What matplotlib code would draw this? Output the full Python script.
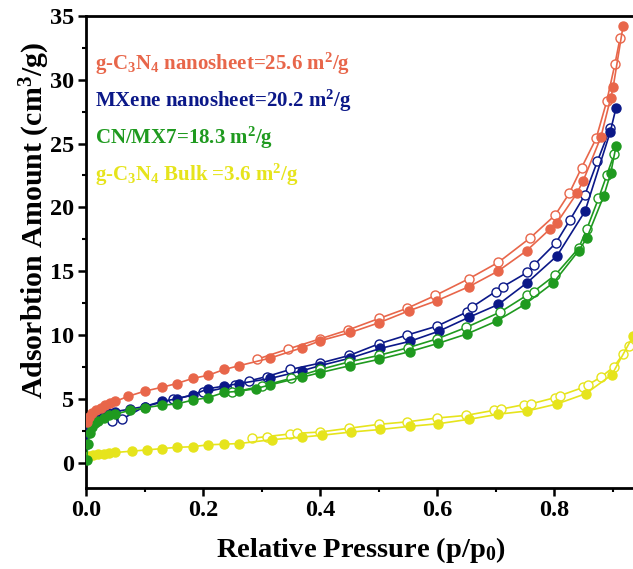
import matplotlib
matplotlib.use("Agg")
import matplotlib.pyplot as plt
from matplotlib.ticker import MultipleLocator

plt.rcParams["font.family"] = "Liberation Serif"
plt.rcParams["font.weight"] = "bold"
plt.rcParams["mathtext.fontset"] = "custom"
plt.rcParams["mathtext.rm"] = "Liberation Serif:bold"
plt.rcParams["mathtext.it"] = "Liberation Serif:bold:italic"
plt.rcParams["mathtext.bf"] = "Liberation Serif:bold"
plt.rcParams["mathtext.default"] = "rm"

# ── Data ─────────────────────────────────────────────────────────────────────

# g-C3N4 nanosheet
red_ads_x = [0.001, 0.005, 0.010, 0.017, 0.025, 0.033, 0.041, 0.050, 0.072, 0.100,
             0.129, 0.155, 0.182, 0.209, 0.236, 0.262, 0.315, 0.369, 0.400, 0.452,
             0.500, 0.552, 0.600, 0.655, 0.704, 0.753, 0.793, 0.805, 0.839, 0.850,
             0.880, 0.897, 0.901, 0.918]
red_ads_y = [3.2, 3.6, 3.9, 4.1, 4.3, 4.5, 4.7, 4.8, 5.2, 5.6,
             5.9, 6.2, 6.6, 6.85, 7.3, 7.6, 8.2, 9.0, 9.55, 10.2,
             10.95, 11.9, 12.7, 13.8, 15.0, 16.6, 18.3, 18.8, 21.1, 22.1,
             25.5, 28.6, 29.4, 34.2]
red_des_x = [0.292, 0.345, 0.400, 0.448, 0.501, 0.549, 0.597, 0.654, 0.705, 0.759,
             0.802, 0.826, 0.847, 0.872, 0.890, 0.904, 0.913]
red_des_y = [8.1, 8.9, 9.7, 10.4, 11.3, 12.1, 13.1, 14.4, 15.7, 17.6,
             19.4, 21.1, 23.1, 25.4, 28.3, 31.2, 33.3]

# MXene nanosheet
blue_ads_x = [0.001, 0.003, 0.006, 0.010, 0.015, 0.020, 0.030, 0.040, 0.050, 0.075,
              0.100, 0.129, 0.155, 0.182, 0.209, 0.236, 0.262, 0.315, 0.369, 0.400,
              0.452, 0.503, 0.553, 0.603, 0.655, 0.705, 0.754, 0.805, 0.853, 0.896,
              0.906]
blue_ads_y = [1.5, 2.3, 2.8, 3.1, 3.4, 3.6, 3.8, 3.9, 4.0, 4.2,
              4.4, 4.8, 5.0, 5.3, 5.8, 6.0, 6.2, 6.6, 7.2, 7.6,
              8.2, 8.95, 9.5, 10.3, 11.4, 12.4, 14.1, 16.2, 19.7, 25.9,
              27.8]
blue_des_x = [0.044, 0.061, 0.100, 0.149, 0.200, 0.255, 0.278, 0.309, 0.349, 0.400,
              0.450, 0.500, 0.549, 0.600, 0.651, 0.660, 0.700, 0.713, 0.754, 0.766,
              0.803, 0.827, 0.853, 0.874, 0.896]
blue_des_y = [3.3, 3.4, 4.4, 4.95, 5.5, 6.05, 6.4, 6.75, 7.3, 7.8,
              8.4, 9.3, 10.0, 10.7, 11.8, 12.2, 13.4, 13.8, 14.9, 15.5,
              17.2, 19.0, 21.0, 23.6, 26.2]

# CN/MX7
green_ads_x = [0.001, 0.003, 0.006, 0.010, 0.015, 0.020, 0.030, 0.040, 0.050, 0.075,
               0.100, 0.129, 0.155, 0.182, 0.209, 0.236, 0.262, 0.290, 0.315, 0.369,
               0.400, 0.451, 0.501, 0.553, 0.602, 0.652, 0.702, 0.750, 0.799, 0.842,
               0.856, 0.885, 0.897, 0.906]
green_ads_y = [0.2, 1.5, 2.3, 2.8, 3.1, 3.3, 3.5, 3.7, 3.8, 4.1,
               4.3, 4.5, 4.6, 4.9, 5.1, 5.5, 5.6, 5.8, 6.1, 6.7,
               7.05, 7.6, 8.1, 8.7, 9.35, 10.1, 11.1, 12.4, 14.1, 16.6,
               17.6, 20.9, 22.7, 24.8]
green_des_x = [0.250, 0.300, 0.350, 0.400, 0.450, 0.500, 0.550, 0.600, 0.650, 0.708,
               0.753, 0.765, 0.802, 0.842, 0.856, 0.876, 0.890, 0.903]
green_des_y = [5.5, 6.0, 6.6, 7.3, 7.9, 8.4, 9.0, 9.7, 10.6, 11.8,
               13.1, 13.4, 14.7, 16.8, 18.3, 20.7, 22.5, 24.2]

# g-C3N4 bulk
yellow_ads_x = [0.001, 0.005, 0.012, 0.020, 0.030, 0.040, 0.050, 0.078, 0.104, 0.129,
                0.155, 0.182, 0.209, 0.236, 0.262, 0.317, 0.369, 0.403, 0.453, 0.503,
                0.554, 0.602, 0.655, 0.705, 0.754, 0.805, 0.854, 0.899, 0.935]
yellow_ads_y = [0.3, 0.5, 0.6, 0.65, 0.7, 0.75, 0.8, 0.9, 1.0, 1.1,
                1.2, 1.25, 1.4, 1.45, 1.5, 1.8, 2.0, 2.15, 2.4, 2.6,
                2.85, 3.05, 3.4, 3.8, 4.05, 4.6, 5.4, 6.9, 9.9]
yellow_des_x = [0.283, 0.309, 0.349, 0.360, 0.400, 0.450, 0.500, 0.549, 0.600, 0.649,
                0.697, 0.710, 0.749, 0.760, 0.802, 0.810, 0.850, 0.858, 0.880, 0.902,
                0.918, 0.929, 0.940]
yellow_des_y = [1.9, 2.05, 2.25, 2.3, 2.4, 2.7, 3.0, 3.2, 3.5, 3.7,
                4.1, 4.2, 4.55, 4.6, 5.1, 5.25, 5.9, 6.1, 6.7, 7.5,
                8.5, 9.15, 10.0]

labels = ["g-C$_3$N$_4$ nanosheet=25.6 m$^2$/g",
          "MXene nanosheet=20.2 m$^2$/g",
          "CN/MX7=18.3 m$^2$/g",
          "g-C$_3$N$_4$ Bulk =3.6 m$^2$/g"]
colors = ["#e8664a", "#0b1888", "#1f9a1f", "#e6e41c"]

series = [
    (red_ads_x, red_ads_y, red_des_x, red_des_y),
    (blue_ads_x, blue_ads_y, blue_des_x, blue_des_y),
    (green_ads_x, green_ads_y, green_des_x, green_des_y),
    (yellow_ads_x, yellow_ads_y, yellow_des_x, yellow_des_y),
]

# ── Plot ─────────────────────────────────────────────────────────────────────

fig = plt.figure(figsize=(6.33, 5.69), dpi=100)
ax = fig.add_axes([0.136, 0.142, 0.864, 0.830])

draw_order = [3, 1, 2, 0]  # bulk first, red on top
for z, i in enumerate(draw_order):
    ax_x, ax_y, de_x, de_y = series[i]
    c = colors[i]
    ax.plot(de_x, de_y, "-o", color=c, lw=1.2, ms=6.5, mfc="white",
            mec=c, mew=1.0, zorder=3 + z)
    ax.plot(ax_x, ax_y, "-o", color=c, lw=1.2, ms=6.5, mfc=c,
            mec=c, zorder=3 + z)

for i, lbl in enumerate(labels):
    ax.text(0.016, 31.25 - i * 2.9, lbl, color=colors[i], fontsize=15,
            fontweight="bold", va="center", ha="left")

ax.set_xlim(0, 0.935)
ax.set_ylim(-2, 35)
ax.xaxis.set_major_locator(MultipleLocator(0.2))
ax.xaxis.set_minor_locator(MultipleLocator(0.1))
ax.yaxis.set_major_locator(MultipleLocator(5))
ax.yaxis.set_minor_locator(MultipleLocator(2.5))
ax.set_xticks([0.0, 0.2, 0.4, 0.6, 0.8])
ax.set_xticklabels(["0.0", "0.2", "0.4", "0.6", "0.8"])

for s in ["left", "bottom", "top"]:
    ax.spines[s].set_linewidth(2.0)
ax.spines["right"].set_visible(False)

ax.tick_params(which="major", direction="out", length=5.5, width=1.8,
               labelsize=17.5, pad=3)
ax.tick_params(which="minor", direction="out", length=3, width=1.5)
for t in ax.get_xticklabels() + ax.get_yticklabels():
    t.set_fontweight("bold")

fig.text(0.571, 0.021, "Relative Pressure (p/p$_0$)", fontsize=20.5,
         fontweight="bold", ha="center", va="baseline")
fig.text(0.068, 0.612, "Adsorbtion Amount (cm$^3$/g)", fontsize=21.5,
         fontweight="bold", ha="center", va="baseline", rotation=90,
         rotation_mode="anchor")

fig.savefig("out.png", dpi=100)
